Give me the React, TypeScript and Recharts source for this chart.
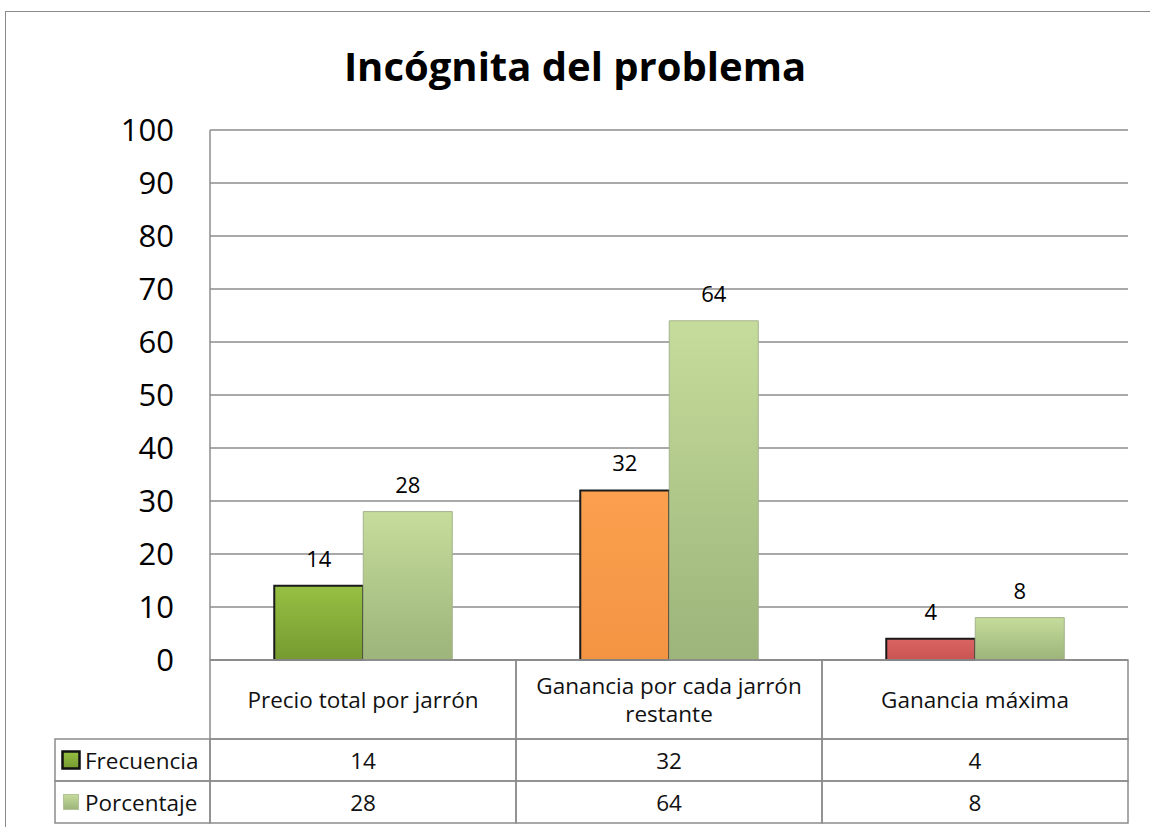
import React from "react"
import { BarChart, Bar, XAxis, YAxis, CartesianGrid, LabelList, Cell } from "recharts"

const categories = ["Precio total por jarrón", "Ganancia por cada jarrón restante", "Ganancia máxima"]
const frecuencia = [14, 32, 4]
const porcentaje = [28, 64, 8]
const seriesNames = ["Frecuencia", "Porcentaje"]
const yTicks = [0, 10, 20, 30, 40, 50, 60, 70, 80, 90, 100]
const frecuenciaFills = ["url(#gFrecVerde)", "url(#gFrecNaranja)", "url(#gFrecRojo)"]

const W = 1150
const H = 827
const Y_AXIS_W = 80
const MARGIN = { top: 130, right: 22, bottom: 30, left: 130 }
const X_AXIS_H = 137
const PLOT_LEFT = MARGIN.left + Y_AXIS_W
const PLOT_W = W - PLOT_LEFT - MARGIN.right
const PLOT_BOTTOM = H - MARGIN.bottom - X_AXIS_H
const COL_W = PLOT_W / categories.length
const HEADER_H = 79
const ROW_H = 42
const LEGEND_LEFT = 55
const LINE = "#8c8c8c"
const TABLE_FONT = 22.5

const data = categories.map((name, i) => ({
  name,
  frecuencia: frecuencia[i],
  porcentaje: porcentaje[i],
}))

// parte la etiqueta en lineas de ~26 caracteres
function wrap(label: string, max = 26) {
  const words = label.split(" ")
  const lines: string[] = []
  let cur = ""
  for (const w of words) {
    const next = cur ? cur + " " + w : w
    if (next.length > max && cur) {
      lines.push(cur)
      cur = w
    } else cur = next
  }
  if (cur) lines.push(cur)
  return lines
}

function TableTick(props: any) {
  const { x, payload, index } = props
  const left = x - COL_W / 2
  const top = PLOT_BOTTOM
  const lines = wrap(String(payload.value))
  const midHeader = top + HEADER_H / 2
  const values = [frecuencia[index], porcentaje[index]]
  return (
    <g>
      <rect x={left} y={top} width={COL_W} height={HEADER_H} fill="none" stroke={LINE} strokeWidth={1.5} />
      {lines.map((l, i) => (
        <text
          key={i}
          x={x}
          y={midHeader + (i - (lines.length - 1) / 2) * 28}
          textAnchor="middle"
          dominantBaseline="central"
          fontSize={TABLE_FONT}
          fill="#111"
        >
          {l}
        </text>
      ))}
      {values.map((v, r) => (
        <g key={r}>
          <rect x={left} y={top + HEADER_H + r * ROW_H} width={COL_W} height={ROW_H} fill="none" stroke={LINE} strokeWidth={1.5} />
          <text x={x} y={top + HEADER_H + r * ROW_H + ROW_H / 2} textAnchor="middle" dominantBaseline="central" fontSize={TABLE_FONT} fill="#111">
            {v}
          </text>
        </g>
      ))}
      {index === 0 &&
        seriesNames.map((s, r) => {
          const ry = top + HEADER_H + r * ROW_H
          const box = r === 0 ? 17 : 15
          return (
            <g key={s}>
              <rect x={LEGEND_LEFT} y={ry} width={left - LEGEND_LEFT} height={ROW_H} fill="none" stroke={LINE} strokeWidth={1.5} />
              <rect
                x={LEGEND_LEFT + 16 - box / 2}
                y={ry + ROW_H / 2 - box / 2}
                width={box}
                height={box}
                fill={r === 0 ? "url(#gFrecVerde)" : "url(#gPorc)"}
                stroke={r === 0 ? "#111" : "#b4c49a"}
                strokeWidth={r === 0 ? 2.5 : 1}
              />
              <text x={LEGEND_LEFT + 30} y={ry + ROW_H / 2} dominantBaseline="central" fontSize={TABLE_FONT} fill="#111">
                {s}
              </text>
            </g>
          )
        })}
    </g>
  )
}

export default function App() {
  return (
    <div style={{ position: "absolute", left: 0, top: 0, width: W, height: H, overflow: "hidden", background: "#fff", fontFamily: "'Open Sans', sans-serif" }}>
      <div style={{ position: "absolute", left: 5, top: 11, width: W + 20, height: H + 20, border: "1px solid #8a8a8a" }} />
      <div style={{ position: "absolute", left: 0, top: 38, width: W, textAlign: "center", fontSize: 40, fontWeight: 700, color: "#000" }}>
        Incógnita del problema
      </div>
      <div style={{ position: "absolute", left: 0, top: 0 }}>
        <BarChart width={W} height={H} data={data} margin={MARGIN} barCategoryGap="21%" barGap={0}>
          <defs>
            <linearGradient id="gFrecVerde" x1="0" y1="0" x2="0" y2="1">
              <stop offset="0%" stopColor="#96c043" />
              <stop offset="100%" stopColor="#769a30" />
            </linearGradient>
            <linearGradient id="gFrecNaranja" x1="0" y1="0" x2="0" y2="1">
              <stop offset="0%" stopColor="#fba04e" />
              <stop offset="100%" stopColor="#f39443" />
            </linearGradient>
            <linearGradient id="gFrecRojo" x1="0" y1="0" x2="0" y2="1">
              <stop offset="0%" stopColor="#db6462" />
              <stop offset="100%" stopColor="#c85553" />
            </linearGradient>
            <linearGradient id="gPorc" x1="0" y1="0" x2="0" y2="1">
              <stop offset="0%" stopColor="#c5dc9c" />
              <stop offset="100%" stopColor="#9db47a" />
            </linearGradient>
          </defs>
          <CartesianGrid vertical={false} stroke={LINE} strokeWidth={1.5} />
          <YAxis
            type="number"
            domain={[0, 100]}
            ticks={yTicks}
            width={Y_AXIS_W}
            axisLine={{ stroke: LINE, strokeWidth: 1.5 }}
            tickLine={false}
            tickSize={0}
            tickMargin={36}
            tick={{ fontSize: 31, fill: "#000" }}
            interval={0}
          />
          <XAxis
            dataKey="name"
            height={X_AXIS_H}
            axisLine={{ stroke: LINE, strokeWidth: 1.5 }}
            tickLine={false}
            tick={<TableTick />}
            interval={0}
          />
          <Bar dataKey="frecuencia" name={seriesNames[0]} stroke="#1a1a1a" strokeWidth={2} isAnimationActive={false}>
            {data.map((d, i) => (
              <Cell key={d.name} fill={frecuenciaFills[i]} />
            ))}
            <LabelList dataKey="frecuencia" position="top" offset={19} fontSize={22} fill="#000" />
          </Bar>
          <Bar dataKey="porcentaje" name={seriesNames[1]} fill="url(#gPorc)" stroke="#a3b28a" strokeWidth={1} isAnimationActive={false}>
            <LabelList dataKey="porcentaje" position="top" offset={19} fontSize={22} fill="#000" />
          </Bar>
        </BarChart>
      </div>
    </div>
  )
}
